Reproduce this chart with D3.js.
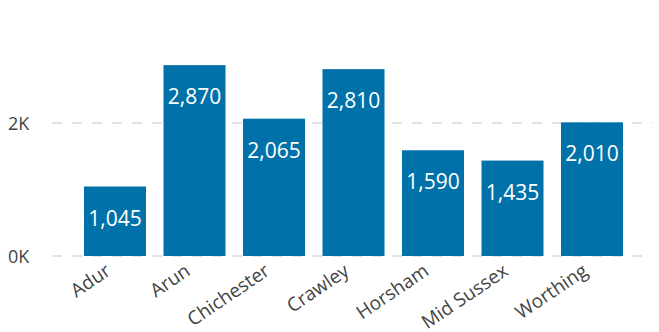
<!DOCTYPE html>
<html lang="en">
<head>
    <meta charset="UTF-8">
    <title>West Sussex districts</title>
    <script src="https://cdn.jsdelivr.net/npm/d3@7"></script>
    <style>
        body { margin: 0; background: #fff; }
        text { font-family: 'Open Sans', sans-serif; }
        .grid line { stroke: #e3e3e3; stroke-width: 2; stroke-dasharray: 10 10; }
    </style>
</head>
<body>
<svg id="chart" width="659" height="332"></svg>
<script>
    const districts = ["Adur", "Arun", "Chichester", "Crawley", "Horsham", "Mid Sussex", "Worthing"];
    const counts = [1045, 2870, 2065, 2810, 1590, 1435, 2010];
    const yTicks = [0, 2000];

    const svg = d3.select("#chart");
    const barColor = "#0072a9";

    const x = d3.scaleBand().domain(districts)
        .range([75.25, 631.75])
        .paddingInner(0.22).paddingOuter(0.11);
    const y = d3.scaleLinear().domain([0, 3000]).range([256, 56.5]);

    // dashed gridlines
    svg.append("g").attr("class", "grid")
        .selectAll("line").data(yTicks).join("line")
        .attr("x1", 52).attr("x2", 653)
        .attr("y1", d => y(d)).attr("y2", d => y(d));

    // y tick labels
    svg.append("g").selectAll("text").data(yTicks).join("text")
        .attr("x", 8).attr("y", d => y(d) + 7)
        .style("font-size", "18px").style("fill", "#444")
        .text(d => d3.format("d")(d / 1000) + "K");

    const rows = districts.map((k, i) => ({name: k, value: counts[i]}));

    // bars
    svg.append("g").selectAll("rect").data(rows).join("rect")
        .attr("x", d => x(d.name)).attr("width", x.bandwidth())
        .attr("y", d => y(d.value)).attr("height", d => y(0) - y(d.value))
        .style("fill", barColor);

    // value labels inside bar tops
    svg.append("g").selectAll("text").data(rows).join("text")
        .attr("x", d => x(d.name) + x.bandwidth() / 2)
        .attr("y", d => y(d.value) + 39)
        .attr("text-anchor", "middle")
        .style("font-size", "21px").style("fill", "#fff")
        .text(d => d3.format(",")(d.value));

    // rotated category labels
    svg.append("g").selectAll("text").data(districts).join("text")
        .attr("transform", d => `translate(${x(d) + x.bandwidth() / 2 - 3},${274}) rotate(-34)`)
        .attr("text-anchor", "end")
        .style("font-size", "19px").style("fill", "#444")
        .text(d => d);
</script>
</body>
</html>
